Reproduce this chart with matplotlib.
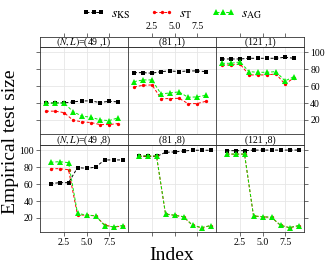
import matplotlib
matplotlib.use("Agg")
import matplotlib.pyplot as plt
import numpy as np

plt.rcParams['font.family'] = ['Liberation Serif', 'DejaVu Serif']
plt.rcParams['mathtext.fontset'] = 'stix'

index = [1, 2, 3, 4, 5, 6, 7, 8, 9]

# top row (L = 1)
ks_49_1 = [39.8, 40.1, 40.1, 41.3, 42.5, 42.5, 40.5, 42.1, 41.3]
t_49_1 = [30.4, 30.4, 28.7, 19.8, 17.8, 17.0, 14.6, 14.6, 15.8]
ag_49_1 = [39.8, 40.1, 40.1, 29.9, 24.5, 23.3, 20.1, 19.3, 22.5]

ks_81_1 = [75.8, 75.8, 75.1, 77.0, 77.8, 77.0, 77.8, 77.8, 77.0]
t_81_1 = [58.9, 60.9, 61.3, 45.2, 45.2, 45.6, 39.3, 39.3, 42.1]
ag_81_1 = [65.2, 67.2, 67.2, 50.7, 51.9, 53.1, 46.8, 47.2, 49.2]

ks_121_1 = [91.9, 91.9, 91.9, 92.7, 92.7, 92.7, 92.7, 93.9, 92.7]
t_121_1 = [84.8, 84.8, 86.0, 73.1, 73.1, 73.1, 74.3, 62.1, 69.9]
ag_121_1 = [86.8, 86.8, 88.4, 77.0, 76.2, 76.2, 77.0, 66.0, 71.1]

# bottom row (L = 8)
ks_49_8 = [60.5, 61.6, 61.6, 79.3, 78.6, 79.8, 88.4, 88.4, 88.4]
t_49_8 = [78.1, 78.1, 76.9, 23.6, 23.3, 22.5, 11.9, 9.2, 10.7]
ag_49_8 = [85.6, 86.4, 85.2, 25.6, 23.3, 22.8, 11.1, 9.5, 11.1]

ks_81_8 = [92.5, 92.5, 92.5, 97.4, 97.8, 98.9, 99.8, 99.8, 99.8]
t_81_8 = [92.8, 93.1, 92.8, 24.6, 23.1, 21.4, 11.3, 8.5, 10.9]
ag_81_8 = [93.1, 93.4, 93.1, 24.8, 23.3, 21.6, 11.5, 8.7, 11.1]

ks_121_8 = [99.3, 99.3, 99.3, 100.0, 100.0, 100.0, 100.0, 100.0, 100.0]
t_121_8 = [95.2, 95.2, 95.2, 22.3, 21.4, 20.7, 11.3, 8.5, 10.9]
ag_121_8 = [95.4, 95.4, 95.4, 22.5, 21.6, 20.9, 11.5, 8.7, 11.1]

strip_labels_top = [r"$(N,L)$=(49 ,1)", "(81 ,1)", "(121 ,1)"]
strip_labels_bottom = [r"$(N,L)$=(49 ,8)", "(81 ,8)", "(121 ,8)"]
series_labels = [r"$s_{\mathrm{KS}}$", r"$s_{\mathrm{T}}$", r"$s_{\mathrm{AG}}$"]
x_ticks = [2.5, 5.0, 7.5]
y_ticks = [20, 40, 60, 80, 100]

top_data = [(ks_49_1, t_49_1, ag_49_1), (ks_81_1, t_81_1, ag_81_1), (ks_121_1, t_121_1, ag_121_1)]
bottom_data = [(ks_49_8, t_49_8, ag_49_8), (ks_81_8, t_81_8, ag_81_8), (ks_121_8, t_121_8, ag_121_8)]

W, H = 332, 266
fig = plt.figure(figsize=(W / 100, H / 100), dpi=100)

col_x = [40, 128, 216]
pw = 88
rows = [(47, 134, 37), (145, 232, 134)]  # panel top, panel bottom, strip top

styles = [dict(color='black', marker='s', ms=3.0),
          dict(color='#ff0000', marker='o', ms=2.4),
          dict(color='#00ee00', marker='^', ms=3.8)]

edge = '#333333'
ylim = (3.5, 106)
xlim_bottom = (-0.17, 9.61)
shift = 0.5
xlim_top = (xlim_bottom[0] + shift, xlim_bottom[1] + shift)


def rect(x0, ytop, w, h):
    return [x0 / W, 1 - (ytop + h) / H, w / W, h / H]


handles = None
for r, (ptop, pbot, stop) in enumerate(rows):
    data = top_data if r == 0 else bottom_data
    strips = strip_labels_top if r == 0 else strip_labels_bottom
    for c in range(3):
        ax = fig.add_axes(rect(col_x[c], ptop, pw, pbot - ptop))
        hs = []
        for series, st in zip(data[c], styles):
            h, = ax.plot(index, series, linestyle=(0, (3, 2)), lw=0.7,
                         markeredgewidth=0, **st)
            hs.append(h)
        handles = hs
        ax.set_ylim(*ylim)
        ax.set_yticks(y_ticks)
        ax.grid(True, color='#e6e6e6', lw=0.6)
        ax.set_axisbelow(True)
        for s in ax.spines.values():
            s.set_color(edge)
            s.set_linewidth(0.6)
        ax.tick_params(length=3, width=0.5, color=edge, labelsize=7, pad=1.5)
        if r == 0:
            ax.set_xlim(*xlim_top)
            ax.set_xticks([v + shift for v in x_ticks])
            ax.tick_params(axis='x', bottom=False, labelbottom=False)
            loc = 1 + (ptop - stop) / (pbot - ptop)
            sec = ax.secondary_xaxis(loc, functions=(lambda x: x - shift, lambda x: x + shift))
            sec.set_xticks(x_ticks)
            sec.tick_params(length=3, width=0.5, color=edge, labelsize=7, pad=1)
            for s in sec.spines.values():
                s.set_visible(False)
            if c != 1:
                sec.set_xticklabels([])
        else:
            ax.set_xlim(*xlim_bottom)
            ax.set_xticks(x_ticks)
            ax.tick_params(axis='x', bottom=True, labelbottom=(c != 1))
        # y axis placement
        if c == 0:
            ax.tick_params(axis='y', left=True, labelleft=(r == 1), right=False)
        elif c == 2:
            ax.tick_params(axis='y', left=False, labelleft=False, right=True, labelright=(r == 0))
        else:
            ax.tick_params(axis='y', left=False, labelleft=False)
        # strip
        sax = fig.add_axes(rect(col_x[c], stop, pw, ptop - stop))
        sax.set_xticks([])
        sax.set_yticks([])
        for s in sax.spines.values():
            s.set_color(edge)
            s.set_linewidth(0.6)
        sax.set_facecolor('white')
        sax.text(0.5, 0.45, strips[c], ha='center', va='center', fontsize=7,
                 transform=sax.transAxes)

fig.text(11 / W, 1 - 142 / H, "Empirical test size", rotation=90, ha='center', va='center', fontsize=14)
fig.text(172 / W, 1 - 255 / H, "Index", ha='center', va='center', fontsize=14)

fig.legend(handles, series_labels, loc='center', ncol=3, frameon=False,
           bbox_to_anchor=(172 / W, 1 - 14 / H), fontsize=10, numpoints=3,
           handlelength=1.7, handletextpad=0.4, columnspacing=1.4)

fig.savefig("out.png", dpi=100)
